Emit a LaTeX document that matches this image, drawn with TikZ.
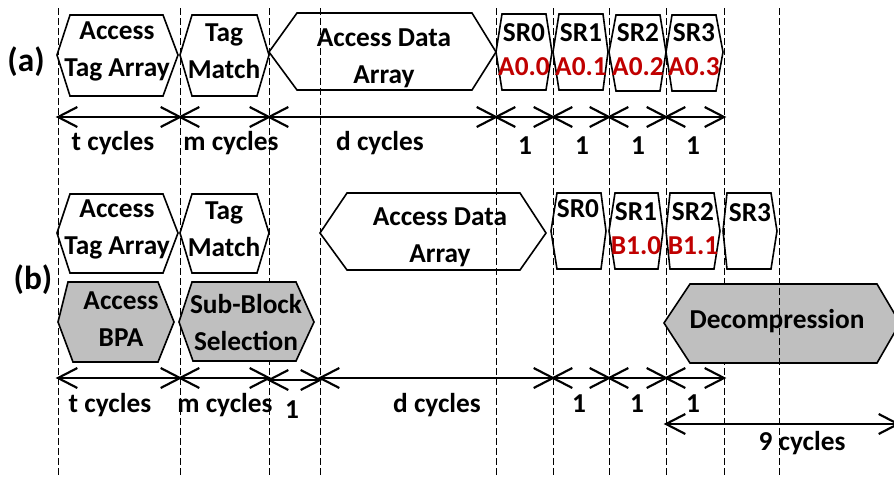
\documentclass[tikz,border=0pt]{standalone}
\usepackage{fontspec}
\setmainfont{Carlito}
\usetikzlibrary{decorations.markings}
\definecolor{darkred}{HTML}{C00000}
\definecolor{boxgrey}{HTML}{BFBFBF}
\begin{document}
\begin{tikzpicture}[x=0.75pt,y=-0.75pt,
  vdash/.style={line width=0.75pt, dash pattern=on 5.25pt off 2.25pt},
  hexa/.style={draw, line width=1.2pt, line join=miter},
  greyhex/.style={hexa, fill=boxgrey},
  dim/.style={line width=1.6pt, postaction={decorate}, decoration={markings,
      mark=at position 0 with {\draw[line width=1.6pt, line join=miter] (14.5pt,7.5pt) -- (0pt,0pt) -- (14.5pt,-7.5pt);},
      mark=at position 1 with {\draw[line width=1.6pt, line join=miter] (-14.5pt,7.5pt) -- (0pt,0pt) -- (-14.5pt,-7.5pt);}}},
  txt/.style={font=\bfseries\fontsize{20.5}{27.75}\selectfont, align=center, inner sep=0pt},
  srtxt/.style={txt, font=\bfseries\fontsize{20.5}{25.5}\selectfont},
  part/.style={txt, font=\bfseries\fontsize{25}{30}\selectfont}
]
\useasboundingbox (0,0) rectangle (894,479);
% timeline grid
\foreach \n/\x in {0/58,1/180,2/269,3/320,4/496,5/553,6/609,7/666,8/724,9/779}
  \coordinate (v\n) at (\x,8);
\foreach \n in {0,...,8}
  \draw[vdash] (v\n) -- (v\n |- 0,477);

% ---- row (a)
\node[part] (la) at (26,62) {(a)};
\draw[hexa] (57,55) -- (70,15) -- (163,15) -- (178,55) -- (163,96) -- (70,96) -- cycle;
\node[txt] (ataA) at (117,51.5) {Access\\Tag Array};
\draw[hexa] (180,55) -- (192,15) -- (257,15) -- (269,55) -- (257,96) -- (192,96) -- cycle;
\node[txt] (tmA) at (224,51.5) {Tag\\Match};
\draw[hexa] (269,52) -- (297,13) -- (472,13) -- (496,52) -- (472,90) -- (297,90) -- cycle;
\node[txt] (adaA) at (384,58) {Access Data\\Array};
\draw[hexa] (496,52) -- (502,14) -- (546,14) -- (552,52) -- (546,90) -- (502,90) -- cycle;
\node[srtxt] (sr0A) at (524,50) {SR0\\\textcolor{darkred}{A0.0}};
\draw[hexa] (553,52) -- (559,14) -- (603,14) -- (608,52) -- (603,90) -- (559,90) -- cycle;
\node[srtxt] (sr1A) at (581,50) {SR1\\\textcolor{darkred}{A0.1}};
\draw[hexa] (609,52) -- (616,15) -- (660,15) -- (666,52) -- (660,91) -- (616,91) -- cycle;
\node[srtxt] (sr2A) at (638,50) {SR2\\\textcolor{darkred}{A0.2}};
\draw[hexa] (666,52) -- (672,15) -- (716,15) -- (723,52) -- (716,91) -- (672,91) -- cycle;
\node[srtxt] (sr3A) at (694,50) {SR3\\\textcolor{darkred}{A0.3}};

\draw[dim] (v0 |- 0,117) -- (v1 |- 0,117);
\draw[dim] (v1 |- 0,117) -- (v2 |- 0,117);
\draw[dim] (v2 |- 0,117) -- (v4 |- 0,117);
\draw[dim] (v4 |- 0,117) -- (v5 |- 0,117);
\draw[dim] (v5 |- 0,117) -- (v6 |- 0,117);
\draw[dim] (v6 |- 0,117) -- (v7 |- 0,117);
\draw[dim] (v7 |- 0,117) -- (v8 |- 0,117);
\node[txt] (tcA) at (113,143) {t cycles};
\node[txt] (mcA) at (231,143) {m cycles};
\node[txt] (dcA) at (380,143) {d cycles};
\node[txt] (o1A) at (525,146) {1};
\node[txt] (o2A) at (582,146) {1};
\node[txt] (o3A) at (638,146) {1};
\node[txt] (o4A) at (693,146) {1};

% ---- row (b)
\node[part] (lb) at (33,280) {(b)};
\draw[hexa] (57,233) -- (70,194) -- (163,194) -- (178,233) -- (163,273) -- (70,273) -- cycle;
\node[txt] (ataB) at (117,229) {Access\\Tag Array};
\draw[hexa] (180,233) -- (192,194) -- (257,194) -- (269,233) -- (257,273) -- (192,273) -- cycle;
\node[txt] (tmB) at (224,229) {Tag\\Match};
\draw[hexa] (320,233) -- (347,193) -- (520,193) -- (546,233) -- (520,270) -- (347,270) -- cycle;
\node[txt] (adaB) at (440,237) {Access Data\\Array};
\draw[hexa] (551,231) -- (557,193) -- (601,193) -- (606,231) -- (601,269) -- (557,269) -- cycle;
\node[txt] (sr0B) at (578,209) {SR0};
\draw[hexa] (609,231) -- (615,193) -- (658,193) -- (663,231) -- (658,269) -- (615,269) -- cycle;
\node[srtxt] (sr1B) at (636,229) {SR1\\\textcolor{darkred}{B1.0}};
\draw[hexa] (666,231) -- (670,193) -- (714,193) -- (720,231) -- (714,269) -- (670,269) -- cycle;
\node[srtxt] (sr2B) at (693,229) {SR2\\\textcolor{darkred}{B1.1}};
\draw[hexa] (723,231) -- (727,193) -- (771,193) -- (777,231) -- (771,269) -- (727,269) -- cycle;
\node[txt] (sr3B) at (750,213) {SR3};

\draw[greyhex] (58,322) -- (68,282) -- (158,282) -- (174,322) -- (158,362) -- (73,362) -- cycle;
\node[txt] (bpa) at (121,319.5) {Access\\BPA};
\draw[greyhex] (179,322) -- (192,282) -- (296,282) -- (314,322) -- (296,361) -- (193,361) -- cycle;
\node[txt] (sbs) at (246,322.5) {Sub-Block\\Selection};
\draw[greyhex] (664,323) -- (690,284) -- (877,284) -- (900,323) -- (877,363) -- (690,363) -- cycle;
\node[txt] (dec) at (777,321) {Decompression};
\draw[vdash] (v9) -- (v9 |- 0,477);

\draw[dim] (v0 |- 0,378) -- (v1 |- 0,378);
\draw[dim] (v1 |- 0,378) -- (v2 |- 0,378);
\draw[dim] (v2 |- 0,380) -- (v3 |- 0,380);
\draw[dim] (v3 |- 0,378) -- (v5 |- 0,378);
\draw[dim] (v5 |- 0,378) -- (v6 |- 0,378);
\draw[dim] (v6 |- 0,378) -- (v7 |- 0,378);
\draw[dim] (v7 |- 0,378) -- (v8 |- 0,378);
\coordinate (nineEnd) at (898,424);
\draw[dim] (v7 |- 0,424) -- (nineEnd);
\node[txt] (tcB) at (110,405) {t cycles};
\node[txt] (mcB) at (225,405) {m cycles};
\node[txt] (o0B) at (292,410) {1};
\node[txt] (dcB) at (437,405) {d cycles};
\node[txt] (o1B) at (579,404) {1};
\node[txt] (o2B) at (637,404) {1};
\node[txt] (o3B) at (693,404) {1};
\node[txt] (ncB) at (802,443) {9 cycles};
\end{tikzpicture}
\end{document}
